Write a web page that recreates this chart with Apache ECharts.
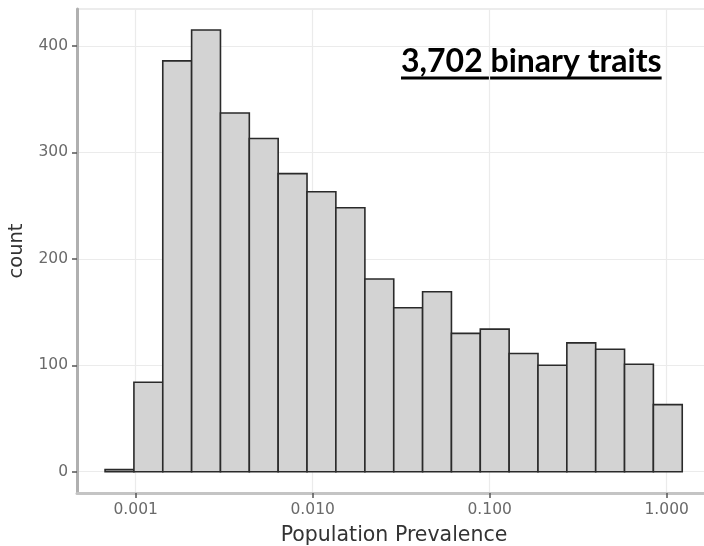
<!DOCTYPE html>
<html>
<head>
<meta charset="utf-8">
<script src="https://cdn.jsdelivr.net/npm/echarts@6/dist/echarts.min.js"></script>
<style>html,body{margin:0;padding:0;background:#fff}#c{width:704px;height:546px}</style>
</head>
<body>
<div id="c"></div>
<script>
// Histogram bin edges (log10 of population prevalence) and counts
const binEdgesLog10 = [-3.173, -3.010, -2.847, -2.684, -2.521, -2.358, -2.195, -2.032, -1.869, -1.705,
  -1.542, -1.379, -1.216, -1.053, -0.890, -0.727, -0.564, -0.401, -0.238, -0.075, 0.088];
const counts = [2, 84, 386, 415, 337, 313, 280, 263, 248, 181,
  154, 169, 130, 134, 111, 100, 121, 115, 101, 63];
const xTickValues = [0.001, 0.01, 0.1, 1];
const xTickLabels = ['0.001', '0.010', '0.100', '1.000'];
const yTickValues = [0, 100, 200, 300, 400];
const annotation = '3,702 binary traits';
const xTitle = 'Population Prevalence';
const yTitle = 'count';

const data = counts.map((c, i) => [Math.pow(10, binEdgesLog10[i]), Math.pow(10, binEdgesLog10[i + 1]), c]);

const chart = echarts.init(document.getElementById('c'), null, {renderer: 'canvas'});

const annFont = 'bold 32px Lato';
const cv = document.createElement('canvas').getContext('2d');
cv.font = annFont;
const annW = cv.measureText(annotation).width;
const annLeft = 401;

chart.setOption({
  animation: false,
  backgroundColor: '#ffffff',
  grid: {left: 77, top: 9, right: -7, bottom: 53, containLabel: false, outerBoundsMode: 'none',
    show: true, borderColor: '#d9d9d9', borderWidth: 1, backgroundColor: '#ffffff'},
  xAxis: {
    type: 'log', logBase: 10,
    min: Math.pow(10, -3.3316), max: Math.pow(10, 0.2505),
    name: xTitle, nameLocation: 'middle', nameGap: 32,
    nameTextStyle: {fontFamily: 'DejaVu Sans', fontSize: 20.5, color: '#333333'},
    axisLine: {show: true, onZero: false, lineStyle: {color: '#c4c4c4', width: 3}},
    axisTick: {show: true, length: 5, customValues: xTickValues, lineStyle: {color: '#555', width: 1.5}},
    axisLabel: {customValues: xTickValues, fontFamily: 'DejaVu Sans', fontSize: 15.5, color: '#6a6a6a', margin: 9,
      formatter: v => xTickLabels[xTickValues.findIndex(t => Math.abs(Math.log10(t) - Math.log10(v)) < 1e-6)] || ''},
    splitLine: {show: true, lineStyle: {color: '#ebebeb', width: 1.2}}
  },
  yAxis: {
    type: 'value', min: -20, max: 434.7,
    name: yTitle, nameLocation: 'middle', nameGap: 50, nameRotate: 90,
    nameTextStyle: {fontFamily: 'DejaVu Sans', fontSize: 19.5, color: '#333333'},
    axisLine: {show: true, onZero: false, lineStyle: {color: '#b0b0b0', width: 3}},
    axisTick: {show: true, length: 5, customValues: yTickValues, lineStyle: {color: '#555', width: 1.5}},
    axisLabel: {customValues: yTickValues, fontFamily: 'DejaVu Sans', fontSize: 15.5, color: '#6a6a6a', margin: 9},
    splitLine: {show: true, lineStyle: {color: '#ebebeb', width: 1.2}}
  },
  series: [{
    type: 'custom',
    data: data,
    encode: {x: [0, 1], y: 2},
    renderItem: function (params, api) {
      const p0 = api.coord([api.value(0), api.value(2)]);
      const p1 = api.coord([api.value(1), 0]);
      return {
        type: 'rect',
        shape: {x: p0[0], y: p0[1], width: p1[0] - p0[0], height: p1[1] - p0[1]},
        style: {fill: '#d3d3d3', stroke: '#2a2a2a', lineWidth: 1.6}
      };
    }
  }],
  graphic: [
    {type: 'text', left: annLeft, top: 46, style: {text: annotation, font: annFont, fill: '#000000'}},
    {type: 'rect', shape: {x: annLeft, y: 76.5, width: annW, height: 3}, style: {fill: '#000000'}}
  ]
});
</script>
</body>
</html>
